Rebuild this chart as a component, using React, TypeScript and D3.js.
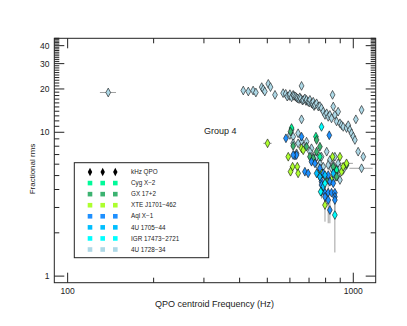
import { useEffect, useRef } from "react";
import * as d3 from "d3";

// [frequency Hz, fractional rms %, dFreq, dRms]
type Pt = [number, number, number?, number?];

const src1728: Pt[] = [
  [138.7, 18.9, 9, 0.5],
  [412, 19.5], [429, 19.2], [446, 19.5], [456, 18.9], [478, 20.6], [484, 19.9], [490, 19.2],
  [504, 21.7], [513, 20.6], [532, 18.2], [568, 18.7], [580, 18.5], [587, 17.7], [597, 17.9],
  [600, 18.4], [608, 17.5], [616, 18.2], [620, 17.9], [628, 17.7], [633, 17.4], [638, 17.2],
  [646, 17.0], [650, 17.5], [655, 17.1], [659, 21.0], [664, 16.6], [668, 16.8], [677, 17.2],
  [683, 16.5], [686, 16.8], [695, 16.3], [701, 16.1], [705, 16.8], [714, 15.9], [721, 15.7],
  [724, 16.3], [729, 15.2], [734, 15.5], [744, 15.9], [754, 15.1], [764, 15.2], [774, 14.7],
  [785, 13.9], [796, 13.2], [807, 13.55], [817, 12.8], [828, 13.2], [839, 12.5], [846, 18.2],
  [851, 15.1], [862, 13.2], [874, 11.9], [885, 13.9], [898, 11.55], [910, 11.2], [922, 10.9],
  [947, 10.7], [960, 11.2], [973, 10.4], [986, 9.84], [1000, 9.32], [1013, 8.84], [1021, 12.3],
  [1040, 7.33], [1069, 14.3], [1084, 6.76], [1069, 5.62, 100, 0.3],
  [608, 10.4], [600, 9.58], [616, 9.32], [641, 9.84], [659, 12.3], [659, 8.6], [616, 8.38],
  [641, 8.38], [668, 7.94], [633, 7.14], [714, 7.74], [724, 6.76], [734, 6.41], [764, 6.08],
  [785, 5.76], [807, 7.33], [828, 6.41], [839, 5.62], [851, 5.92], [874, 5.47], [885, 4.91],
  [898, 4.66], [922, 5.47], [764, 4.91], [796, 4.91], [754, 5.76], [744, 6.76], [774, 6.76],
  [817, 5.92], [862, 6.76], [851, 4.66], [885, 6.08], [898, 5.62], [686, 8.6], [705, 7.33],
];

const srcCyg: Pt[] = [[608, 10.7], [740, 9.32], [764, 6.76], [781, 5.18], [874, 5.47]];

const srcGx17: Pt[] = [
  [603, 10.1], [616, 8.03], [686, 7.94], [705, 6.76], [724, 6.59], [744, 8.84], [764, 7.94],
  [744, 7.33], [817, 4.66], [874, 4.91], [851, 5.76], [947, 5.92],
];

const srcXte: Pt[] = [
  [501, 8.38, 17, 0.4], [592, 6.76], [613, 5.76], [603, 5.32], [637, 5.76], [641, 5.18],
  [659, 7.74], [668, 7.5], [769, 5.32], [839, 4.66], [846, 6.76], [898, 6.76], [910, 5.32],
  [922, 5.76], [947, 6.08, 50, 0.3], [796, 3.12, 0, 0.73],
];

const srcAql: Pt[] = [
  [581, 9.08], [625, 6.88], [633, 6.95], [616, 6.95], [659, 9.32], [677, 5.32], [695, 5.18],
  [714, 6.24], [734, 6.08], [764, 5.62], [785, 5.18], [817, 5.04], [824, 9.53], [828, 4.53],
  [851, 4.42], [774, 4.53], [774, 4.3], [774, 3.86, 0, 0.4], [796, 3.8, 0, 0.4], [817, 3.8],
  [839, 3.8], [862, 3.8], [862, 3.56], [862, 3.38, 0, 0.5], [796, 3.56], [817, 3.38, 0, 1.05],
  [828, 2.88, 0, 0.55],
];

const src1705: Pt[] = [[764, 4.91], [796, 5.04], [851, 5.18], [744, 5.18], [785, 4.2]];

const srcIgr: Pt[] = [[774, 10.9], [862, 2.66, 0, 1.2], [769, 3.86], [796, 4.42]];

const legendLabels = [
  "kHz QPO", "Cyg X\u22122", "GX 17+2", "XTE J1701\u2212462", "Aql X\u22121",
  "4U 1705\u221244", "IGR 17473\u22122721", "4U 1728\u221234",
];
const legendColors = [
  "#000000", "#00FA9A", "#3CB371", "#ADFF2F", "#1E90FF", "#00BFFF", "#00FFFF", "#ADD8E6",
];

// draw order (1728 first so the rest sit on top)
const layers: [Pt[], string][] = [
  [src1728, "#ADD8E6"],
  [srcCyg, "#00FA9A"],
  [srcGx17, "#3CB371"],
  [srcXte, "#ADFF2F"],
  [srcAql, "#1E90FF"],
  [src1705, "#00BFFF"],
  [srcIgr, "#00FFFF"],
];

const xMajor = [100, 1000];
const xMinor = [200, 300, 400, 500, 600, 700, 800, 900];
const yMajor = [1, 10, 20, 30, 40];
const yMinor = [
  2, 3, 4, 5, 6, 7, 8, 9,
  11, 12, 13, 14, 15, 16, 17, 18, 19,
  21, 22, 23, 24, 25, 26, 27, 28, 29,
  31, 32, 33, 34, 35, 36, 37, 38, 39,
  41, 42, 43, 44, 45,
];

const W = 407;
const H = 326;
const P = { left: 54.3, right: 375.7, top: 38.3, bottom: 282.7 };
const FONT = "'Liberation Sans', Arial, sans-serif";

export default function App() {
  const ref = useRef<SVGSVGElement>(null);

  useEffect(() => {
    const svg = d3.select(ref.current);
    svg.selectAll("*").remove();

    const x = d3.scaleLog().domain([89.8, 1198]).range([P.left, P.right]);
    const y = d3.scaleLog().domain([0.9, 45]).range([P.bottom, P.top]);

    const g = svg.append("g");
    const clip = "plot-clip";
    svg.append("defs").append("clipPath").attr("id", clip)
      .append("rect")
      .attr("x", P.left).attr("y", P.top)
      .attr("width", P.right - P.left).attr("height", P.bottom - P.top);

    const data = g.append("g").attr("clip-path", `url(#${clip})`);
    const diamond = (cx: number, cy: number, hw: number, hh: number) =>
      `M${cx},${cy - hh}L${cx + hw},${cy}L${cx},${cy + hh}L${cx - hw},${cy}Z`;

    // error bars
    for (const [pts] of layers) {
      for (const [f, r, df = 0, dr = 0] of pts) {
        if (df > 0) {
          data.append("line")
            .attr("x1", x(f - df)).attr("x2", x(f + df))
            .attr("y1", y(r)).attr("y2", y(r))
            .attr("stroke", "#a0a0a0").attr("stroke-width", 1);
        }
        if (dr > 0) {
          data.append("line")
            .attr("x1", x(f)).attr("x2", x(f))
            .attr("y1", y(Math.max(r - dr, 0.95))).attr("y2", y(r + dr))
            .attr("stroke", "#a0a0a0").attr("stroke-width", 1);
        }
      }
    }
    for (const [pts, color] of layers) {
      data.append("g").selectAll("path")
        .data(pts)
        .join("path")
        .attr("d", (d) => diamond(x(d[0]), y(d[1]), 2.4, 4.4))
        .attr("fill", color)
        .attr("stroke", "#111")
        .attr("stroke-width", 0.6);
    }

    // frame + ticks
    const axes = g.append("g").attr("stroke", "#222").attr("stroke-width", 1);
    axes.append("rect")
      .attr("x", P.left).attr("y", P.top)
      .attr("width", P.right - P.left).attr("height", P.bottom - P.top)
      .attr("fill", "none");

    const xt = (v: number, len: number) => {
      axes.append("line").attr("x1", x(v)).attr("x2", x(v))
        .attr("y1", P.bottom).attr("y2", P.bottom - len);
      axes.append("line").attr("x1", x(v)).attr("x2", x(v))
        .attr("y1", P.top).attr("y2", P.top + len);
    };
    const yt = (v: number, len: number) => {
      axes.append("line").attr("y1", y(v)).attr("y2", y(v))
        .attr("x1", P.left).attr("x2", P.left + len);
      axes.append("line").attr("y1", y(v)).attr("y2", y(v))
        .attr("x1", P.right).attr("x2", P.right - len);
    };
    xMajor.forEach((v) => xt(v, 10));
    xMinor.forEach((v) => xt(v, 5));
    yMajor.forEach((v) => yt(v, 10));
    yMinor.forEach((v) => yt(v, 5));

    const txt = g.append("g").attr("font-family", FONT).attr("fill", "#222");
    txt.selectAll("text.xl").data(xMajor).join("text")
      .attr("x", (d) => x(d)).attr("y", 294)
      .attr("text-anchor", "middle").attr("font-size", 8.5)
      .text((d) => d);
    txt.selectAll("text.yl").data(yMajor).join("text")
      .attr("x", 49.5).attr("y", (d) => y(d)).attr("dy", "0.35em")
      .attr("text-anchor", "end").attr("font-size", 8.5)
      .text((d) => d);

    txt.append("text")
      .attr("x", (P.left + P.right) / 2 - 0.5).attr("y", 306.5)
      .attr("text-anchor", "middle").attr("font-size", 9)
      .text("QPO centroid Frequency (Hz)");
    txt.append("text")
      .attr("transform", `translate(35,169) rotate(-90)`)
      .attr("text-anchor", "middle").attr("font-size", 8)
      .text("Fractional rms");
    txt.append("text")
      .attr("x", 204).attr("y", 133.5).attr("font-size", 9)
      .text("Group 4");

    // legend
    const lg = g.append("g");
    lg.append("rect")
      .attr("x", 74.3).attr("y", 162.7).attr("width", 134.4).attr("height", 95)
      .attr("fill", "#fff").attr("stroke", "#222").attr("stroke-width", 1);
    const rowY = d3.scaleLinear().domain([0, 7]).range([172, 249.5]);
    legendLabels.forEach((label, i) => {
      const cy = rowY(i);
      [90, 102.7, 115.3].forEach((cx) => {
        if (i === 0) {
          lg.append("path").attr("d", diamond(cx, cy, 2.2, 4.2)).attr("fill", "#000");
        } else {
          lg.append("rect")
            .attr("x", cx - 2.3).attr("y", cy - 2.3).attr("width", 4.6).attr("height", 4.6)
            .attr("fill", legendColors[i]);
        }
      });
      lg.append("text")
        .attr("x", 131).attr("y", cy).attr("dy", "0.35em")
        .attr("font-family", FONT).attr("font-size", 6.3).attr("fill", "#222")
        .text(label);
    });
  }, []);

  return (
    <svg
      ref={ref}
      width={W}
      height={H}
      style={{ position: "absolute", left: 0, top: 0, background: "#fff" }}
    />
  );
}
